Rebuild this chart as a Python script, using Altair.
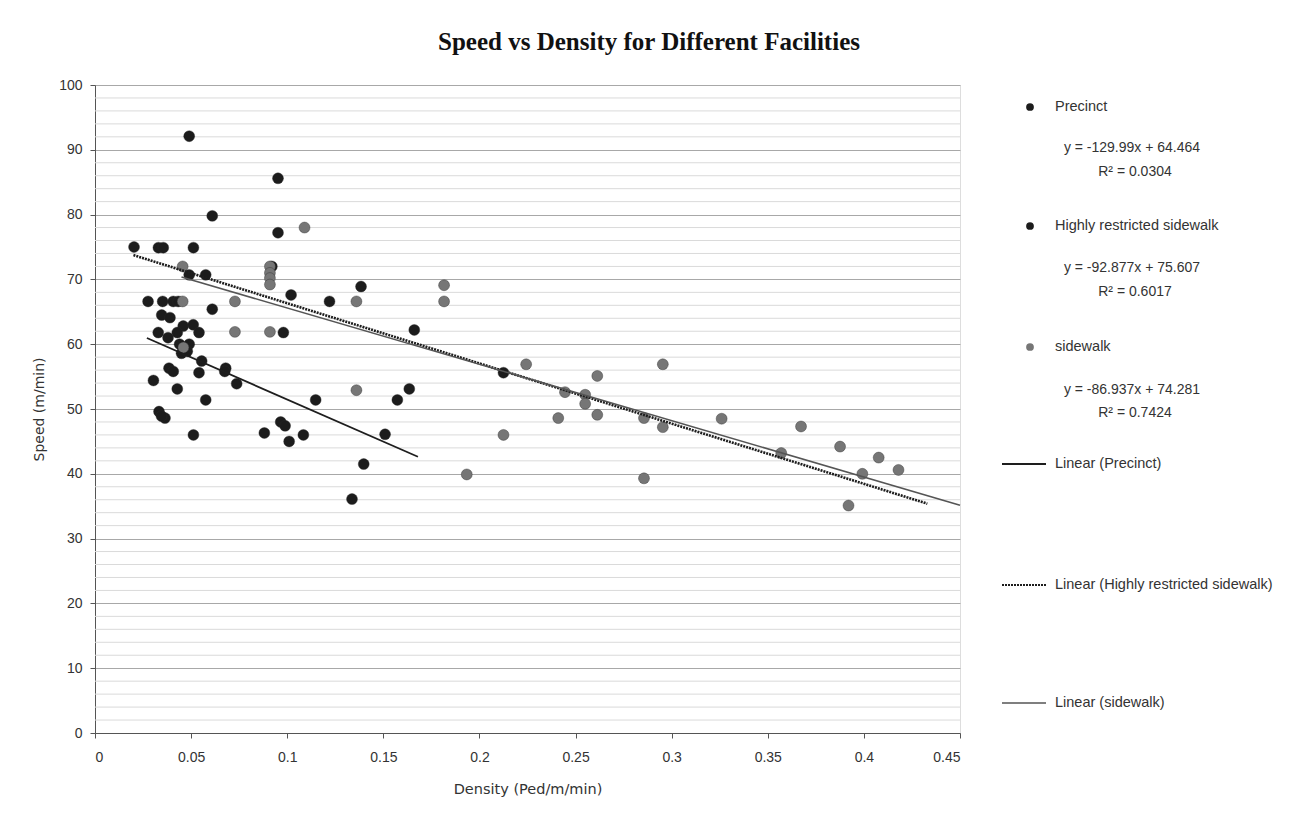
import altair as alt
import pandas as pd

# ---------------- data ----------------
series_names = ["Precinct", "Highly restricted sidewalk", "sidewalk"]
series_colors = ["#1c1c1c", "#1c1c1c", "#767676"]

precinct_x = [0.0276, 0.0352, 0.0407, 0.0433, 0.061, 0.0347, 0.039, 0.0459, 0.0511, 0.0541,
              0.0329, 0.038, 0.0428, 0.098, 0.044, 0.047, 0.049, 0.045, 0.048, 0.0555,
              0.068, 0.0675, 0.0385, 0.0407, 0.0541, 0.0737, 0.0304, 0.0428, 0.0576, 0.1148,
              0.0333, 0.0364, 0.0346, 0.0512, 0.0881, 0.0966, 0.0989, 0.101, 0.1084, 0.1573,
              0.1635, 0.1509, 0.1398, 0.1337]
precinct_y = [66.6, 66.6, 66.6, 66.6, 65.4, 64.5, 64.1, 62.8, 63.0, 61.8,
              61.8, 61.0, 61.8, 61.8, 60.0, 59.5, 60.0, 58.6, 58.9, 57.4,
              56.3, 55.8, 56.3, 55.8, 55.6, 53.9, 54.4, 53.1, 51.4, 51.4,
              49.6, 48.6, 48.9, 46.0, 46.3, 48.0, 47.4, 45.0, 46.0, 51.4,
              53.1, 46.1, 41.5, 36.1]

hrs_x = [0.0203, 0.033, 0.0355, 0.0512, 0.049, 0.061, 0.0952, 0.0952, 0.049, 0.0576,
         0.102, 0.122, 0.1384, 0.1661, 0.2125, 0.092]
hrs_y = [75.0, 74.9, 74.9, 74.9, 92.1, 79.8, 85.6, 77.2, 70.7, 70.7,
         67.6, 66.6, 68.9, 62.2, 55.6, 72.0]

sidewalk_x = [0.0456, 0.0456, 0.046, 0.109, 0.091, 0.091, 0.091, 0.091, 0.0728, 0.0728,
              0.091, 0.136, 0.1816, 0.1816, 0.136, 0.1934, 0.2243, 0.2613, 0.2954, 0.2445,
              0.255, 0.255, 0.2613, 0.241, 0.2856, 0.2954, 0.2125, 0.2856, 0.326, 0.3673,
              0.3876, 0.357, 0.4077, 0.418, 0.3992, 0.392]
sidewalk_y = [72.0, 66.6, 59.5, 78.0, 72.0, 71.0, 70.2, 69.2, 66.6, 61.9,
              61.9, 66.6, 69.1, 66.6, 52.9, 39.9, 56.9, 55.1, 56.9, 52.6,
              52.2, 50.8, 49.1, 48.6, 48.6, 47.2, 46.0, 39.3, 48.5, 47.3,
              44.2, 43.2, 42.5, 40.6, 40.0, 35.1]

# trendlines (equations shown in the legend) and their x extents
trend_slope = [-129.99, -92.877, -86.937]
trend_intercept = [64.464, 75.607, 74.281]
trend_r2 = ["0.0304", "0.6017", "0.7424"]
trend_x_start = [0.027, 0.020, 0.045]
trend_x_end = [0.168, 0.433, 0.45]

x_ticks = [0, 0.05, 0.1, 0.15, 0.2, 0.25, 0.3, 0.35, 0.4, 0.45]
y_ticks = [0, 10, 20, 30, 40, 50, 60, 70, 80, 90, 100]
y_minor = [v for v in range(0, 101, 2) if v % 10 != 0]

# ---------------- tables ----------------
pts = pd.concat([
    pd.DataFrame({"x": precinct_x, "y": precinct_y, "series": series_names[0]}),
    pd.DataFrame({"x": hrs_x, "y": hrs_y, "series": series_names[1]}),
    pd.DataFrame({"x": sidewalk_x, "y": sidewalk_y, "series": series_names[2]}),
], ignore_index=True)

trend_rows = []
for n, m, b, x0, x1 in zip(series_names, trend_slope, trend_intercept, trend_x_start, trend_x_end):
    trend_rows.append({"series": n, "x": x0, "y": m * x0 + b})
    trend_rows.append({"series": n, "x": x1, "y": m * x1 + b})
trend = pd.DataFrame(trend_rows)

minor_df = pd.DataFrame({"y": y_minor})

W, H = 865, 648
FONT = "Liberation Sans"
AXF = "DejaVu Sans"

xscale = alt.Scale(domain=[0, 0.45], nice=False, zero=False)
yscale = alt.Scale(domain=[0, 100], nice=False)

X = alt.X("x:Q", scale=xscale,
          axis=alt.Axis(values=x_ticks, format=".2~f", title="Density (Ped/m/min)", grid=False,
                        tickSize=5, tickColor="#555555", domainColor="#555555",
                        labelPadding=12, titlePadding=18, labelFontSize=14, titleFontSize=14.5,
                        labelFont=FONT, titleFont=AXF, titleFontWeight="normal",
                        labelColor="#333333", titleColor="#333333"))
Y = alt.Y("y:Q", scale=yscale,
          axis=alt.Axis(values=y_ticks, title="Speed (m/min)", grid=True, gridColor="#a8a8a8",
                        gridWidth=1, tickSize=5, tickColor="#555555", domainColor="#555555",
                        labelPadding=8, titlePadding=12, labelFontSize=14, titleFontSize=14,
                        labelFont=FONT, titleFont=AXF, titleFontWeight="normal",
                        labelColor="#333333", titleColor="#333333"))

minor = alt.Chart(minor_df).mark_rule(color="#dadada", strokeWidth=1).encode(
    y=Y, x=alt.value(0), x2=alt.value(W))

points = alt.Chart(pts).mark_circle(size=120, opacity=1, stroke="#2a2a2a", strokeWidth=0.4).encode(
    x=X, y=Y,
    color=alt.Color("series:N", scale=alt.Scale(domain=series_names, range=series_colors), legend=None))

line_styles = [
    dict(color="#1e1e1e", strokeWidth=1.8),
    dict(color="#1e1e1e", strokeWidth=2.6, strokeDash=[2, 1]),
    dict(color="#555555", strokeWidth=1.6),
]
lines = []
for n, st in zip(series_names, line_styles):
    lines.append(alt.Chart(trend).transform_filter(alt.datum.series == n).mark_line(**st).encode(
        x=alt.X("x:Q", scale=xscale), y=alt.Y("y:Q", scale=yscale)))

dummy = alt.Data(values=[{}])


def text(s, x, y, size=14.5, align="left", font=FONT, weight="normal", color="#333333"):
    return alt.Chart(dummy).mark_text(align=align, baseline="middle", fontSize=size, font=font,
                                      fontWeight=weight, color=color).encode(
        x=alt.value(x), y=alt.value(y), text=alt.value(s))


layers = [minor, points] + lines

# title
layers.append(text("Speed vs Density for Different Facilities", 554, -43, size=25, align="center",
                   font="Liberation Serif", weight="bold", color="#111111"))

# legend: markers + labels + equations
leg_y = [22, 141, 262]
eq_y = [63, 183, 305]
r2_y = [87, 207, 328]
for i, n in enumerate(series_names):
    layers.append(alt.Chart(dummy).mark_circle(size=60, opacity=1, color=series_colors[i]).encode(
        x=alt.value(935), y=alt.value(leg_y[i])))
    layers.append(text(n, 960, leg_y[i]))
    eq = f"y = {trend_slope[i]}x + {trend_intercept[i]}"
    layers.append(text(eq, 1037, eq_y[i], size=14, align="center"))
    layers.append(text(f"R\u00b2 = {trend_r2[i]}", 1040, r2_y[i], size=14, align="center"))

lin_y = [379, 500, 618]
for i, n in enumerate(series_names):
    st = dict(line_styles[i])
    st["strokeWidth"] = min(st["strokeWidth"], 2.2)
    layers.append(alt.Chart(dummy).mark_rule(**st).encode(
        x=alt.value(907), x2=alt.value(951), y=alt.value(lin_y[i])))
    layers.append(text(f"Linear ({n})", 960, lin_y[i]))

chart = alt.layer(*layers).properties(
    width=W, height=H,
    autosize=alt.AutoSizeParams(type="none"),
    padding={"left": 95, "top": 85, "right": 338, "bottom": 86},
).configure_view(stroke=None).configure(background="white")

chart.save("out.html", embed_options={"renderer": "svg", "actions": False})
